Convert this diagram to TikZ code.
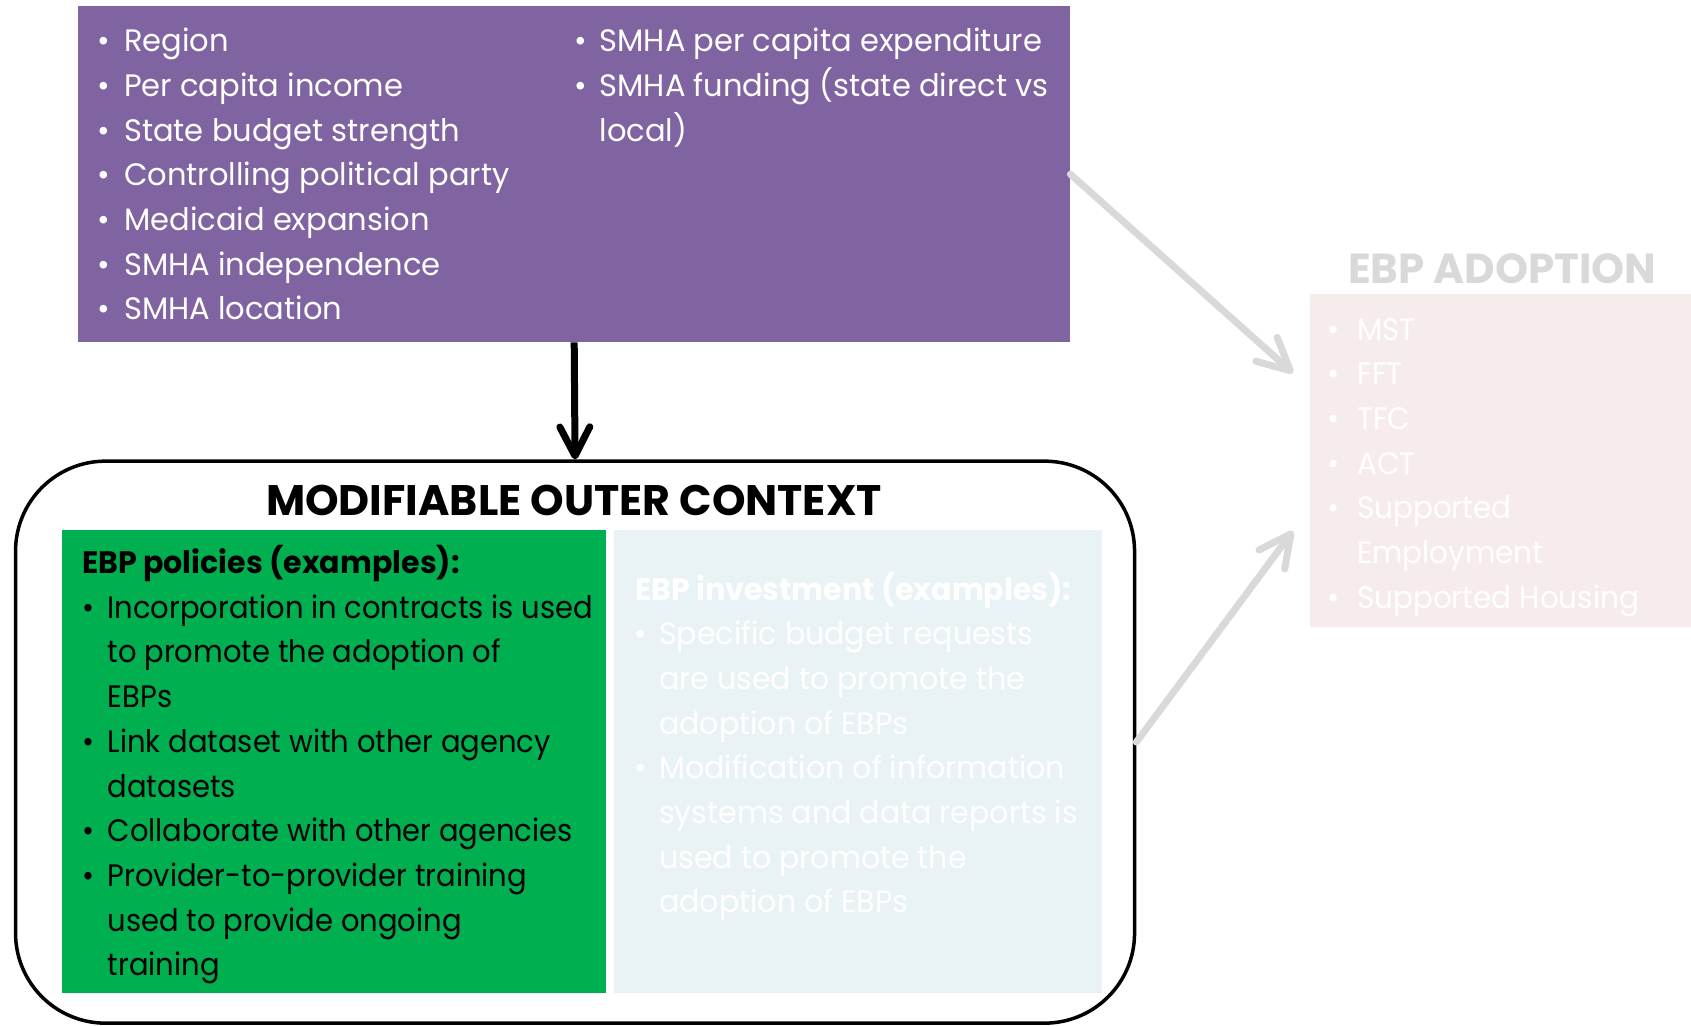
\documentclass[tikz,border=0pt]{standalone}
\usepackage{fontspec}
\setmainfont{Poppins}
\newfontfamily\factorsfont[FakeStretch=0.985]{Poppins}
\newfontfamily\policyfont[FakeStretch=0.935]{Poppins}
\newfontfamily\investfont[FakeStretch=0.97]{Poppins}
\newfontfamily\adoptfont[FakeStretch=0.95]{Poppins}
\newfontfamily\headfont[FakeStretch=0.97]{Poppins}
\usetikzlibrary{arrows.meta}

\definecolor{factorpurple}{HTML}{8064A2}
\definecolor{policygreen}{HTML}{00B050}
\definecolor{investblue}{HTML}{E9F2F5}
\definecolor{adoptpink}{HTML}{F6ECEC}
\definecolor{fadegrey}{HTML}{D9D9D9}

% bullet centred half of #1 to the left of the text start
\newcommand\bl[1]{\llap{\makebox[#1][c]{\textbullet}}}
\newcommand\bodysize{\fontsize{31}{44.7}\selectfont}

\tikzset{
  panel/.style={rectangle, inner sep=0pt, anchor=north west},
  listtext/.style={anchor=base west, inner sep=0pt},
  blackarrow/.style={line width=7pt, -{Straight Barb[length=29pt,width=30pt,round]}},
  greyarrow/.style={fadegrey, line width=7pt, line cap=round, -{Straight Barb[length=32pt,width=32pt,round]}}
}

\begin{document}
\begin{tikzpicture}[x=1pt,y=-1pt]
\useasboundingbox (0,0) rectangle (1691,1025);

% outer-context factors
\node[panel, fill=factorpurple, minimum width=992pt, minimum height=336pt] (factors) at (78,6) {};
\node[listtext, text=white, font=\factorsfont\bodysize] (factorsA) at (124,51.7) {\begin{tabular}[t]{@{}l@{}}
\bl{41pt}Region\\
\bl{41pt}Per capita income\\
\bl{41pt}State budget strength\\
\bl{41pt}Controlling political party\\
\bl{41pt}Medicaid expansion\\
\bl{41pt}SMHA independence\\
\bl{41pt}SMHA location
\end{tabular}};
\node[listtext, text=white, font=\factorsfont\bodysize] (factorsB) at (599.5,51.7) {\begin{tabular}[t]{@{}l@{}}
\bl{37.4pt}SMHA per capita expenditure\\
\bl{37.4pt}SMHA funding (state direct vs\\
local)
\end{tabular}};

% modifiable outer context
\node[panel, draw=black, line width=3.5pt, rounded corners=90pt, minimum width=1119pt, minimum height=562pt] (context) at (13.8,459.4) {};
\node[anchor=base, inner sep=0pt, font=\fontsize{42.7}{50}\selectfont\bfseries] (contextTitle) at (574,515) {MODIFIABLE OUTER CONTEXT};

\node[panel, fill=policygreen, minimum width=544pt, minimum height=463.5pt] (policies) at (62,529.5) {};
\node[listtext, text=black, font=\policyfont\bodysize] (policiesText) at (82,573.5) {\begin{tabular}[t]{@{}l@{}}
{\headfont\bfseries EBP policies (examples):}\\
\hspace*{25.5pt}\bl{39.4pt}Incorporation in contracts is used\\
\hspace*{25.5pt}to promote the adoption of\\
\hspace*{25.5pt}EBPs\\
\hspace*{25.5pt}\bl{39.4pt}Link dataset with other agency\\
\hspace*{25.5pt}datasets\\
\hspace*{25.5pt}\bl{39.4pt}Collaborate with other agencies\\
\hspace*{25.5pt}\bl{39.4pt}Provider-to-provider training\\
\hspace*{25.5pt}used to provide ongoing\\
\hspace*{25.5pt}training
\end{tabular}};

\node[panel, fill=investblue, minimum width=488pt, minimum height=463.5pt] (investment) at (614,529.5) {};
\node[listtext, text=white, font=\investfont\bodysize] (investmentText) at (635,600) {\begin{tabular}[t]{@{}l@{}}
{\headfont\bfseries EBP investment (examples):}\\
\hspace*{24pt}\bl{38pt}Specific budget requests\\
\hspace*{24pt}are used to promote the\\
\hspace*{24pt}adoption of EBPs\\
\hspace*{24pt}\bl{38pt}Modification of information\\
\hspace*{24pt}systems and data reports is\\
\hspace*{24pt}used to promote the\\
\hspace*{24pt}adoption of EBPs
\end{tabular}};

% EBP adoption
\node[anchor=base, inner sep=0pt, text=fadegrey, font=\fontsize{42}{50}\selectfont\bfseries] (adoptTitle) at (1502,283.3) {EBP ADOPTION};
\node[panel, fill=adoptpink, minimum width=381pt, minimum height=333.5pt] (adoption) at (1310,293.5) {};
\node[listtext, text=white, font=\adoptfont\bodysize] (adoptionText) at (1357,340) {\begin{tabular}[t]{@{}l@{}}
\bl{48pt}MST\\
\bl{48pt}FFT\\
\bl{48pt}TFC\\
\bl{48pt}ACT\\
\bl{48pt}Supported\\
Employment\\
\bl{48pt}Supported Housing
\end{tabular}};

% connectors
\coordinate (tipUpper) at (1293,373);
\coordinate (tipLower) at (1293,531);
\draw[blackarrow] (factors.south) -- (context.north);
\draw[greyarrow] (factors.east) -- (tipUpper);
\draw[greyarrow] (context.east) -- (tipLower);
\end{tikzpicture}
\end{document}
